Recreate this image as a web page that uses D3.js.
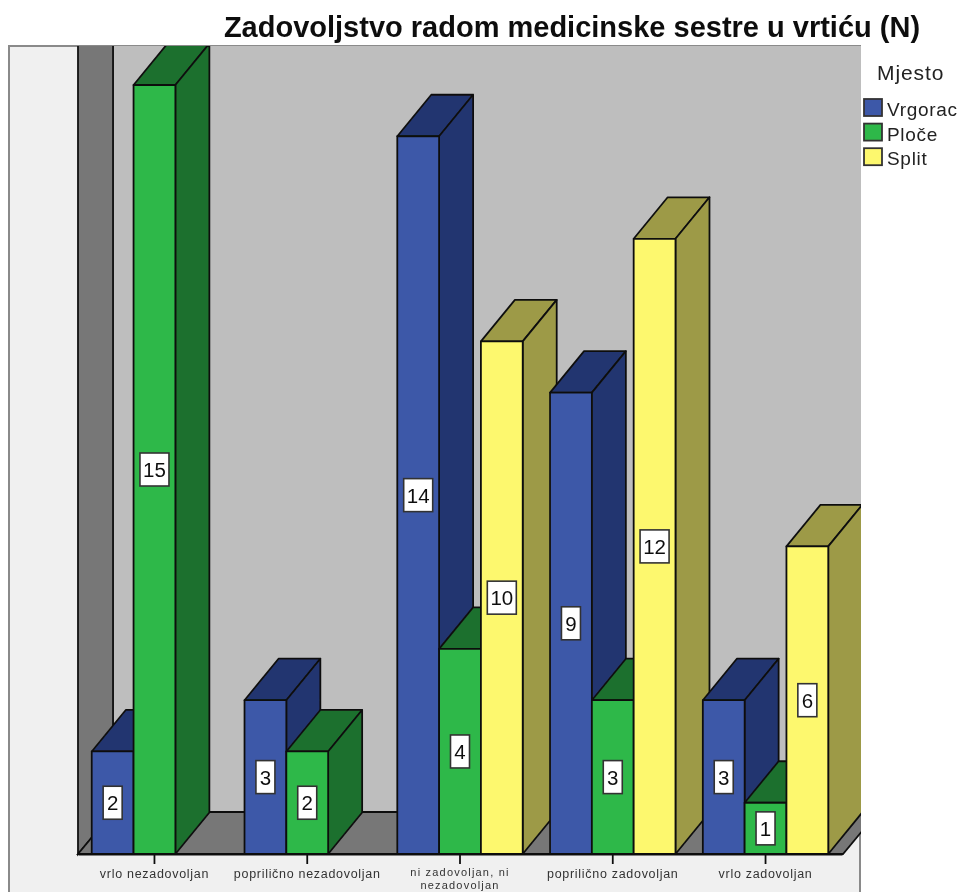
<!DOCTYPE html>
<html>
<head>
<meta charset="utf-8">
<script src="https://cdnjs.cloudflare.com/ajax/libs/d3/7.8.5/d3.min.js"></script>
<style>
  html, body { margin: 0; padding: 0; background: #fff; }
  svg { display: block; font-family: "Liberation Sans", Arial, sans-serif; }
</style>
</head>
<body>
<svg id="chart" width="961" height="892"></svg>
<script>
const categories = ["vrlo nezadovoljan", "poprilično nezadovoljan", "ni zadovoljan, ni nezadovoljan", "poprilično zadovoljan", "vrlo zadovoljan"];
const places = ["Vrgorac", "Ploče", "Split"];
const vrgorac = [2, 3, 14, 9, 3];
const ploce = [15, 2, 4, 3, 1];
const split = [0, 0, 10, 12, 6];
const frontColors = ["#3d58a8", "#2fb84a", "#fdf86e"];
const sideColors = ["#24366f", "#1c702e", "#9d9a47"];

const svg = d3.select("svg#chart");
const depthX = 34, depthY = 41.5;
const wallX = 35, wallY = 42;
const floorY = 854, line = "#111";

const x0 = d3.scaleBand().domain(categories).range([78, 842]).paddingInner(0.179).paddingOuter(0.09);
const x1 = d3.scaleBand().domain(places).range([0, x0.bandwidth()]);
const y = d3.scaleLinear().domain([0, 15]).range([floorY, 85]);
const color = d3.scaleOrdinal().domain(places).range(frontColors);
const side = d3.scaleOrdinal().domain(places).range(sideColors);

const series = [vrgorac, ploce, split];
const bars = [];
categories.forEach((c, i) => places.forEach((p, j) => {
  if (series[j][i] > 0) bars.push({ cat: c, place: p, value: series[j][i] });
}));

svg.append("defs").append("clipPath").attr("id", "plot")
  .append("rect").attr("x", 9).attr("y", 46).attr("width", 852).attr("height", 846);
// the source is an enlarged bitmap so everything is a bit soft
svg.select("defs").append("filter").attr("id", "soft")
  .append("feGaussianBlur").attr("stdDeviation", 0.65);

const root = svg.append("g").attr("filter", "url(#soft)");

// title
root.append("text").attr("x", 572).attr("y", 37).attr("text-anchor", "middle")
  .attr("font-size", 29).attr("font-weight", "bold").attr("fill", "#111")
  .text("Zadovoljstvo radom medicinske sestre u vrtiću (N)");

// outer frame
root.append("rect").attr("x", 9).attr("y", 46).attr("width", 851).attr("height", 860)
  .attr("fill", "#f0f0f0").attr("stroke", "#8a8a8a").attr("stroke-width", 2);

const plot = root.append("g").attr("clip-path", "url(#plot)");
const left = 78, right = 843;
const top3d = 20;
const poly = pts => pts.map(p => p.join(",")).join(" ");

// back wall, left wall, floor
plot.append("polygon").attr("points", poly([[left + wallX, top3d], [right + wallX, top3d], [right + wallX, floorY - wallY], [left + wallX, floorY - wallY]]))
  .attr("fill", "#bebebe").attr("stroke", line).attr("stroke-width", 1.8);
plot.append("polygon").attr("points", poly([[left, top3d], [left + wallX, top3d], [left + wallX, floorY - wallY], [left, floorY]]))
  .attr("fill", "#777").attr("stroke", line).attr("stroke-width", 1.8);
plot.append("polygon").attr("points", poly([[left, floorY], [left + wallX, floorY - wallY], [right + wallX, floorY - wallY], [right, floorY]]))
  .attr("fill", "#777").attr("stroke", line).attr("stroke-width", 1.8);

// bars, left to right so the nearer ones cover the side faces
const bar = plot.selectAll("g.bar").data(bars).enter().append("g").attr("class", "bar");
const bx = d => x0(d.cat) + x1(d.place);
const w = x1.bandwidth();
bar.append("polygon").attr("class", "top")
  .attr("points", d => poly([[bx(d), y(d.value)], [bx(d) + depthX, y(d.value) - depthY], [bx(d) + w + depthX, y(d.value) - depthY], [bx(d) + w, y(d.value)]]))
  .attr("fill", d => side(d.place));
bar.append("polygon").attr("class", "side")
  .attr("points", d => poly([[bx(d) + w, y(d.value)], [bx(d) + w + depthX, y(d.value) - depthY], [bx(d) + w + depthX, floorY - depthY], [bx(d) + w, floorY]]))
  .attr("fill", d => side(d.place));
bar.append("rect").attr("x", bx).attr("y", d => y(d.value)).attr("width", w).attr("height", d => floorY - y(d.value))
  .attr("fill", d => color(d.place));
bar.selectAll("polygon, rect").attr("stroke", line).attr("stroke-width", 1.8).attr("stroke-linejoin", "round");

// value labels
const label = plot.selectAll("g.label").data(bars).enter().append("g").attr("class", "label")
  .attr("transform", d => `translate(${bx(d) + w / 2},${(y(d.value) + floorY) / 2})`);
label.append("rect")
  .attr("x", d => -(String(d.value).length > 1 ? 14.5 : 9.5)).attr("y", -16.5)
  .attr("width", d => String(d.value).length > 1 ? 29 : 19).attr("height", 33)
  .attr("fill", "#fff").attr("stroke", "#333").attr("stroke-width", 1.6);
label.append("text").attr("text-anchor", "middle").attr("y", 7.5).attr("font-size", 20.5).attr("fill", "#111")
  .text(d => d.value);

// category axis
const axis = root.append("g").attr("transform", `translate(0,${floorY})`)
  .call(d3.axisBottom(x0).tickSize(10).tickSizeOuter(0).tickPadding(5));
axis.select(".domain").attr("stroke", line).attr("stroke-width", 1.8);
axis.selectAll(".tick line").attr("stroke", line).attr("stroke-width", 1.8);
axis.selectAll(".tick text").attr("font-size", 12.5).attr("letter-spacing", 0.7)
  .attr("font-family", "Liberation Sans, Arial, sans-serif").attr("fill", "#333")
  .each(function(d) {
    if (d.indexOf("ni zadovoljan") !== 0) return;
    // two lines have to fit above the bottom edge, so this one is a little smaller
    const t = d3.select(this).text(null).attr("font-size", 11).attr("letter-spacing", 1.2);
    t.append("tspan").attr("x", 0).attr("dy", "0.68em").text("ni zadovoljan, ni");
    t.append("tspan").attr("x", 0).attr("dy", "1.14em").text("nezadovoljan");
  });

// legend
root.append("text").attr("x", 877).attr("y", 80).attr("font-size", 21).attr("letter-spacing", 0.9).attr("fill", "#222").text("Mjesto");
const legend = root.selectAll("g.legend").data(places).enter().append("g").attr("class", "legend")
  .attr("transform", (d, i) => `translate(864,${99 + i * 24.6})`);
legend.append("rect").attr("width", 18).attr("height", 17).attr("fill", d => color(d))
  .attr("stroke", "#333").attr("stroke-width", 1.8);
legend.append("text").attr("x", 23).attr("y", 17).attr("font-size", 19).attr("letter-spacing", 0.7).attr("fill", "#222").text(d => d);
</script>
</body>
</html>
